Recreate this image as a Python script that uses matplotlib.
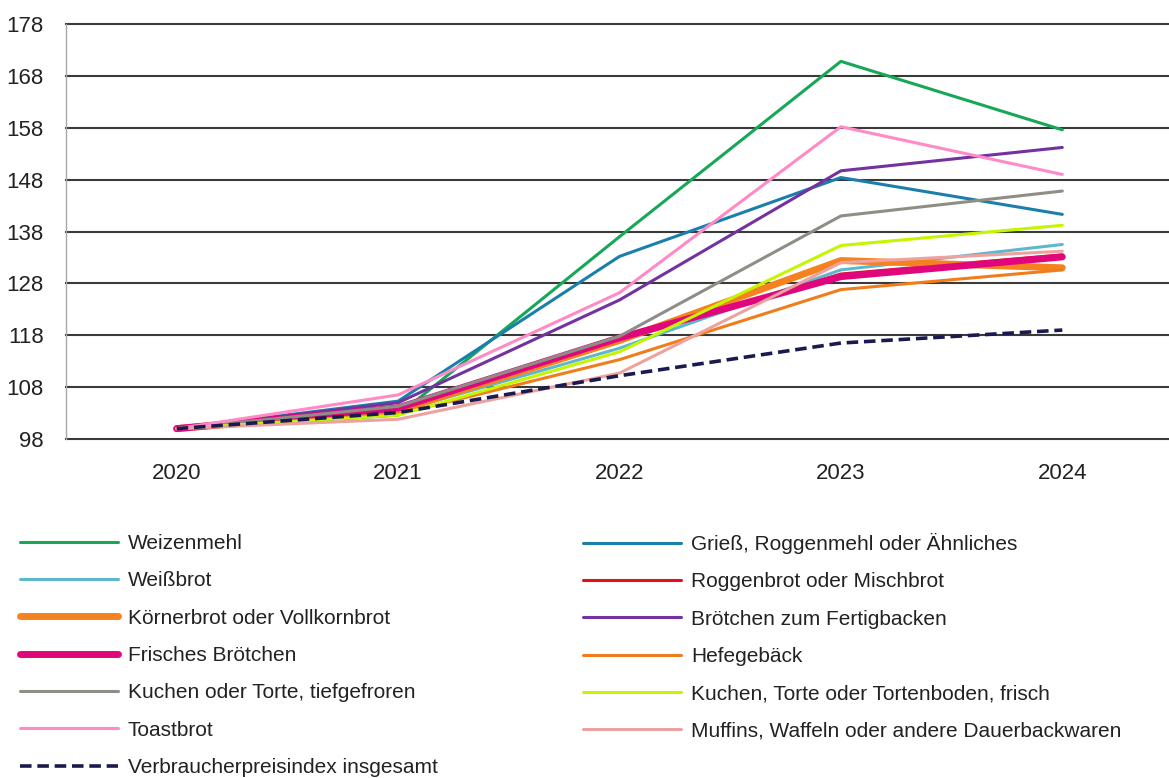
import matplotlib
matplotlib.use("Agg")
import matplotlib.pyplot as plt

# Daten (Index 2020 = 100)
years = ["2020", "2021", "2022", "2023", "2024"]
yticks = [98, 108, 118, 128, 138, 148, 158, 168, 178]

weizenmehl = [100, 102.6, 137.0, 170.8, 157.6]
griess = [100, 105.3, 133.2, 148.4, 141.3]
weissbrot = [100, 103.3, 115.5, 130.6, 135.5]
roggenbrot = [100, 103.8, 117.0, 129.8, 133.5]
koernerbrot = [100, 103.5, 117.0, 132.4, 131.0]
broetchen_fertig = [100, 105.0, 124.8, 149.7, 154.2]
frisches_broetchen = [100, 104.0, 117.5, 129.3, 133.1]
hefegebaeck = [100, 102.8, 113.3, 126.8, 130.6]
kuchen_tief = [100, 104.3, 117.8, 141.0, 145.8]
kuchen_frisch = [100, 102.6, 114.8, 135.3, 139.2]
toastbrot = [100, 106.5, 126.2, 158.2, 149.0]
muffins = [100, 101.8, 110.7, 132.0, 134.2]
vpi = [100, 103.1, 110.2, 116.5, 119.0]

# (Label, Werte, Farbe, Linienbreite)
series = [
    ("Weizenmehl", weizenmehl, "#16a757", 2.2),
    ("Grieß, Roggenmehl oder Ähnliches", griess, "#1a7fab", 2.2),
    ("Weißbrot", weissbrot, "#5db8cc", 2.2),
    ("Roggenbrot oder Mischbrot", roggenbrot, "#e1101f", 2.2),
    ("Körnerbrot oder Vollkornbrot", koernerbrot, "#f5821f", 5.0),
    ("Brötchen zum Fertigbacken", broetchen_fertig, "#7232a0", 2.2),
    ("Frisches Brötchen", frisches_broetchen, "#e0077d", 5.0),
    ("Hefegebäck", hefegebaeck, "#f07d1c", 2.2),
    ("Kuchen oder Torte, tiefgefroren", kuchen_tief, "#8e8d86", 2.2),
    ("Kuchen, Torte oder Tortenboden, frisch", kuchen_frisch, "#c6f500", 2.2),
    ("Toastbrot", toastbrot, "#ff8ac6", 2.2),
    ("Muffins, Waffeln oder andere Dauerbackwaren", muffins, "#eda2a0", 2.2),
]

plt.rcParams["font.family"] = ["Liberation Sans", "DejaVu Sans"]

fig = plt.figure(figsize=(11.69, 7.78), dpi=100)
ax = fig.add_axes([66 / 1169, 1 - 439 / 778, 1107 / 1169, 415 / 778])

x = range(len(years))
handles = []
for label, vals, color, lw in series:
    (h,) = ax.plot(x, vals, color=color, lw=lw, label=label, zorder=3,
                   solid_capstyle="round", solid_joinstyle="round")
    handles.append(h)
(h,) = ax.plot(x, vpi, color="#1b1a4f", lw=2.6, dashes=(3.2, 1.6), zorder=4,
               label="Verbraucherpreisindex insgesamt")
handles.append(h)

ax.set_xlim(-0.5, 4.5)
ax.set_ylim(98, 178)
ax.set_yticks(yticks)
ax.set_xticks(list(x))
ax.set_xticklabels(years)
# horizontale Gitterlinien (auch oben und unten in voller Stärke)
for yv in yticks:
    ax.axhline(yv, color="#3a3a3a", lw=1.5, zorder=1, clip_on=False)
for s in ["top", "right", "bottom"]:
    ax.spines[s].set_visible(False)
ax.spines["left"].set_color("#a8a8a8")
ax.spines["left"].set_linewidth(1.0)
ax.tick_params(axis="both", length=0, colors="#222222", labelsize=16)
ax.tick_params(axis="y", pad=16)
ax.tick_params(axis="x", pad=17)

# Legende in zwei Spalten (zeilenweise Reihenfolge)
leg_kw = dict(frameon=False, fontsize=15, handlelength=4.7, handletextpad=0.48,
              labelspacing=0.88, borderpad=0, borderaxespad=0, loc="upper left")
leg1 = fig.legend(handles[0::2], [h.get_label() for h in handles[0::2]],
                  bbox_to_anchor=(20 / 1169, 1 - 534 / 778), **leg_kw)
leg2 = fig.legend(handles[1::2], [h.get_label() for h in handles[1::2]],
                  bbox_to_anchor=(583 / 1169, 1 - 533 / 778), **leg_kw)
for leg in (leg1, leg2):
    for t in leg.get_texts():
        t.set_color("#222222")

fig.savefig("out.png", dpi=100)
